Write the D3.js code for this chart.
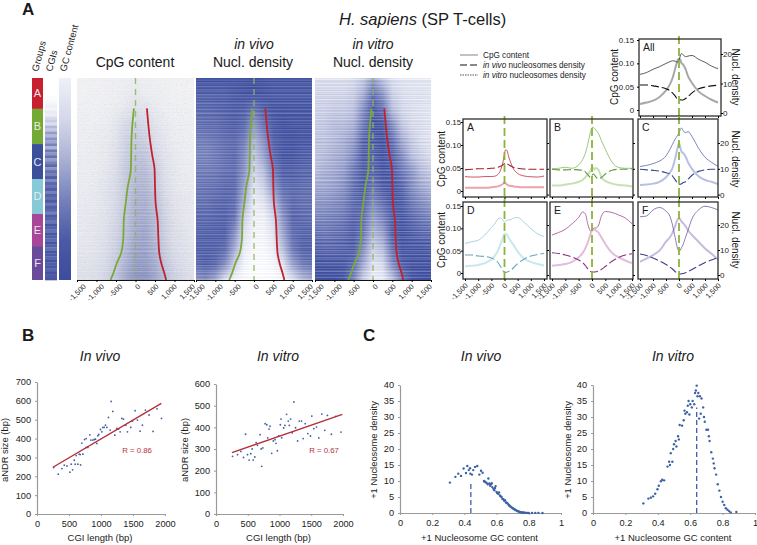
<!DOCTYPE html>
<html><head><meta charset="utf-8">
<script src="https://cdnjs.cloudflare.com/ajax/libs/d3/7.8.5/d3.min.js"></script>
<style>
html,body{margin:0;padding:0;background:#fff}
svg{display:block}
text{font-family:"Liberation Sans",Arial,sans-serif;fill:#1a1a1a}
</style></head><body>
<svg id="c" width="757" height="545"></svg>
<script>
// ---------- DATA ----------
const groupNames = ["A","B","C","D","E","F"];
const groupEnds = [0,0.153,0.327,0.50,0.673,0.832,1];
const groupColors = ["#c8202f","#73aa33","#3b4f9b","#85cad6","#a8479a","#6a4a9a"];
const heatX = [-1500,-1250,-1000,-750,-500,-250,0,250,500,750,1000,1250,1500];
const heatCpG = [
[.03,.03,.03,.04,.04,.05,.06,.05,.04,.03,.03,.03,.03],
[.03,.03,.04,.04,.05,.06,.08,.06,.05,.04,.03,.03,.03],
[.04,.04,.04,.05,.06,.10,.14,.12,.08,.05,.04,.04,.03],
[.05,.05,.05,.06,.10,.18,.22,.18,.12,.08,.05,.05,.04],
[.05,.05,.06,.08,.12,.22,.28,.24,.15,.10,.06,.05,.05],
[.06,.06,.07,.08,.14,.25,.32,.30,.20,.12,.08,.06,.05],
[.06,.06,.07,.10,.16,.28,.36,.36,.26,.14,.09,.07,.06],
[.07,.07,.08,.12,.18,.28,.40,.40,.30,.16,.10,.08,.07],
[.07,.08,.09,.12,.18,.30,.44,.44,.34,.20,.12,.10,.08],
[.08,.09,.10,.13,.20,.32,.46,.46,.38,.22,.14,.10,.08],
[.08,.09,.11,.14,.22,.34,.48,.50,.38,.24,.15,.12,.09],
[.10,.10,.12,.16,.24,.38,.52,.52,.42,.26,.16,.13,.10],
[.12,.12,.14,.18,.28,.42,.56,.56,.46,.30,.20,.15,.12],
[.14,.14,.16,.22,.32,.50,.62,.62,.52,.35,.24,.18,.14]];
const heatVivo = [
[.92,.92,.92,.92,.92,.92,.95,.92,.90,.90,.90,.90,.90],
[.85,.85,.85,.85,.88,.90,.92,.90,.88,.88,.88,.88,.88],
[.80,.80,.82,.84,.86,.85,.75,.85,.90,.90,.90,.90,.90],
[.75,.78,.78,.82,.85,.80,.55,.75,.88,.92,.90,.90,.90],
[.70,.70,.74,.78,.80,.70,.40,.60,.85,.90,.92,.90,.90],
[.66,.66,.70,.76,.80,.62,.30,.50,.80,.90,.90,.86,.85],
[.70,.70,.72,.76,.78,.58,.22,.35,.70,.85,.85,.82,.82],
[.72,.74,.76,.80,.80,.50,.15,.25,.55,.78,.80,.78,.76],
[.76,.76,.80,.82,.78,.40,.10,.15,.35,.68,.80,.76,.76],
[.80,.80,.82,.84,.75,.25,.08,.08,.22,.58,.82,.80,.78],
[.82,.84,.84,.85,.60,.15,.06,.06,.15,.48,.78,.82,.82],
[.85,.85,.85,.80,.45,.10,.04,.04,.10,.35,.72,.85,.85],
[.78,.85,.80,.60,.25,.06,.02,.02,.05,.15,.50,.70,.75],
[.55,.60,.45,.15,.05,.03,.02,.02,.02,.05,.15,.35,.45]];
const heatVitro = [
[.18,.18,.18,.18,.20,.28,.50,.30,.18,.15,.14,.14,.14],
[.22,.22,.22,.22,.26,.42,.75,.55,.25,.18,.16,.16,.14],
[.25,.25,.28,.28,.33,.60,.88,.75,.35,.22,.18,.16,.15],
[.28,.30,.36,.36,.42,.70,.90,.88,.60,.30,.20,.18,.15],
[.32,.32,.36,.42,.52,.80,.85,.92,.75,.45,.28,.18,.15],
[.32,.36,.42,.46,.60,.85,.82,.90,.82,.60,.35,.25,.18],
[.36,.42,.46,.52,.70,.85,.80,.88,.85,.70,.55,.36,.28],
[.46,.46,.50,.58,.75,.85,.72,.85,.88,.80,.60,.46,.38],
[.56,.56,.60,.65,.78,.82,.62,.75,.88,.85,.70,.60,.52],
[.65,.65,.68,.72,.82,.78,.50,.65,.85,.88,.80,.72,.65],
[.75,.72,.75,.78,.85,.72,.38,.50,.85,.90,.85,.80,.78],
[.82,.80,.80,.82,.85,.60,.25,.35,.75,.90,.88,.88,.85],
[.90,.88,.88,.88,.78,.45,.15,.20,.60,.85,.90,.90,.90],
[.92,.92,.92,.88,.65,.25,.10,.10,.30,.70,.88,.92,.92]];
const rowStreaks = [.2,-.4,.5,.1,-.7,.3,-.2,.6,-.5,0,.4,-.8,.2,.5,-.3,-.1,.7,-.6,.3,-.2,.1,.6,-.9,.4,-.3,.2,.5,-.5,.1,-.7,.6,.3,-.4,0,.8,-.2,-.6,.4,.1,-.3,.7,-.5,.2,-.1,.5,-.8,.3,.6,-.4,.1,
 -.2,.4,.6,-.7,0,.3,-.5,.2,.5,-.3,.6,-.1,-.8,.4,.2,-.4,.7,.1,-.6,.3,.5,-.2,-.9,.3,.6,0,-.4,.2,.5,-.7,.1,.4,-.3,.6,-.5,.2,-.1,.7,-.6,.3,0,.5,-.8,.2,.4,-.3,.6,-.2,.1,-.5,.3];
const edgeRow = [.15,.208,.29,.373,.455,.538,.62,.703,.785,.868,.917,.967,1];
const greenEdge = [-40,-70,-100,-110,-120,-198,-250,-300,-310,-370,-480,-570,-640];
const redEdge = [292,318,361,421,490,500,516,567,585,610,662,740,785];
const cgiLevels = [0,0,0,0,0,0,.02,.03,.05,.08,.06,.12,.1,.2,.28,.18,.4,.3,.55,.4,.62,.5,.7,.42,.75,.6,.8,.55,.7,.85,.6,.8,.72,.9,.65,.85,.78,.9,.7,.88,.8,.92,.75,.9,.85,.72,.92,.86,.78,.95,.88,.8,.95,.9,.84,.96,.9,.8,.95,.92,.86,.96,.9,.94,.86,.96,.92,.95];
const gcStops = [.08,.15,.22,.32,.44,.57,.7,.82,.92,.97,1];
const heatTicks = [-1500,-1000,-500,0,500,1000,1500];

const curveX = [-1500,-1250,-1000,-750,-500,-350,-250,-150,-50,0,50,100,150,250,350,500,750,1000,1250,1500];
const cpgAll=[.013,.016,.02,.028,.042,.055,.068,.088,.107,.11,.108,.10,.098,.088,.072,.058,.04,.03,.022,.016];
const vitroAll=[13.1,13.7,14.8,15.7,16.8,17.4,17.7,17.6,17.2,18,19.3,20.2,19.8,19.1,19.3,19.5,18.2,17.2,15.9,15];
const vivoAll=[9.5,9.5,9.2,8.8,8.2,7.6,6.8,5.8,4.7,4.7,4.5,4.4,4.4,4.9,5.6,6.8,8.2,8.8,9.2,9.4];
const cpgA=[.007,.007,.007,.007,.008,.009,.010,.012,.016,.019,.016,.014,.012,.011,.010,.009,.008,.008,.008,.008];
const vitroA=[7,6.8,6.8,7,7,7.2,7.8,9.5,13,16,17.4,17,15,12,9.8,8.2,7.2,6.9,6.8,7.2];
const vivoA=[9.6,9.8,10,10,10.2,10.3,10.6,11,11.6,12,12.2,12,11.6,11,10.5,10.2,9.9,9.8,9.8,9.8];
const cpgB=[.012,.012,.014,.016,.02,.024,.03,.036,.045,.052,.05,.047,.05,.045,.03,.022,.016,.013,.012,.01];
const vitroB=[10,10.2,10.6,10.2,11.5,13.6,16,20,24.5,26,26,25.6,25,23.5,21,17.6,12.6,10.5,10.2,10.2];
const vivoB=[9.8,9.6,9.6,9.7,9.6,9.4,8.8,7.6,6.6,7.5,8,7.5,6.8,6.2,6.6,8,9.4,9.8,9.8,10];
const cpgC=[.013,.014,.016,.02,.03,.04,.05,.07,.095,.105,.095,.085,.083,.075,.062,.048,.032,.024,.02,.015];
const vitroC=[10.9,11.3,12,13,15,17.5,19.5,21.5,23,24,25.2,25.8,25,24,24.4,22.5,18,14.5,12.5,11];
const vivoC=[9.8,9.6,9.4,9.1,8.5,8,7.2,5.8,4.4,4,4,4.2,4.6,5,6,7.5,9,9.6,9.8,9.8];
const cpgD=[.015,.016,.018,.022,.03,.04,.05,.065,.08,.088,.088,.085,.08,.07,.062,.048,.032,.025,.02,.017];
const vitroD=[12.6,13.3,13.9,16,19,20.8,22.4,22.8,21.8,21,21.6,22,22,22.2,22.8,23,21,18.6,16.5,15.4];
const vivoD=[8,8,7.6,7.4,6.8,6,5,3.4,1.6,1,1,1.2,1.4,2,3,4.6,6.4,7.6,8.2,8.6];
const cpgE=[.016,.018,.02,.025,.035,.045,.055,.07,.088,.095,.097,.097,.095,.09,.08,.065,.045,.035,.028,.022];
const vitroE=[16,17,18.3,20.5,23,25.2,24.5,20,17.6,18,18.6,18.8,18.8,20,23.5,25.4,25,24,22.8,20.5];
const vivoE=[8.9,8.6,8,7.2,6,5,3.8,2.4,1.4,1.2,1.2,1.2,1.3,1.6,2.2,3.4,5.5,7,8,8.5];
const cpgF=[.025,.032,.04,.05,.07,.08,.09,.105,.12,.123,.12,.115,.112,.105,.095,.085,.07,.055,.043,.03];
const vitroF=[23.3,23.6,26,27,25.5,23.5,20,15,10.5,9.5,10,11,12,15,18,22.5,26,27.5,27,26];
const vivoF=[8.4,7.8,6.8,5.6,4.2,3.2,2.4,1.4,.6,.4,.4,.5,.6,.9,1.4,2.2,3.6,5,6,7];
const curveTicks=[-1500,-1000,-500,0,500,1000,1500];

const vivoLen=[260,332,390,426,468,514,535,556,582,597,613,639,660,675,681,701,717,743,769,769,795,826,842,873,894,914,935,951,966,992,1013,1029,1049,1070,1091,1117,1143,1158,1184,1216,1247,1273,1299,1325,1351,1387,1413,1465,1491,1533,1569,1610,1647,1694,1751,1813,1875,1945];
const vivoSize=[246,211,241,259,255,222,264,234,285,264,310,264,317,315,260,376,317,395,353,400,353,420,392,392,395,397,374,415,422,448,436,459,459,471,459,512,445,597,544,418,454,450,436,507,503,471,436,459,493,548,498,439,471,551,525,438,558,507];
const vitroLen=[261,339,392,433,465,496,522,548,569,585,611,632,653,695,710,721,736,773,799,815,836,851,877,903,930,945,966,987,1013,1024,1034,1065,1086,1112,1138,1154,1175,1201,1227,1253,1285,1311,1347,1373,1405,1446,1488,1509,1540,1582,1619,1666,1713,1755,1817,1885,1969];
const vitroSize=[266,274,289,261,368,274,249,278,300,249,263,329,317,366,300,220,305,417,412,351,392,405,280,337,343,326,292,361,412,438,352,397,409,460,429,409,438,375,517,398,337,429,429,348,417,371,360,452,394,401,351,461,386,455,368,451,378];
const vivoFitX=[249,1943], vivoFitY=[248,587];
const vitroFitX=[251,1990], vitroFitY=[283,460];

const gcVivoX=[.31,.344,.362,.379,.395,.41,.418,.427,.435,.437,.447,.455,.466,.48,.493,.503,.513,.522,.525,.53,.538,.545,.549,.555,.56,.565,.57,.573,.58,.586,.59,.594,.6,.605,.61,.615,.621,.625,.631,.636,.642,.647,.652,.658,.663,.668,.673,.678,.683,.688,.694,.7,.704,.71,.714,.72,.725,.73,.735,.74,.745,.75,.756,.76,.766,.77,.776,.785,.79,.80,.82,.84,.86,.885];
const gcVivoY=[9.5,11.3,12.3,11.6,13.9,12.5,14.7,13.4,14,12.3,12,13.4,14.4,14.7,12,13.2,12.6,10,9.8,9.7,9.4,9,10.8,9.2,8.5,9,9.3,8.1,7.6,7.1,7.8,8.4,6.6,6.2,6,6.4,5.5,5.2,5,4.4,4.3,3.8,4,3.3,3.2,3,2.7,2.4,2.1,2,1.7,1.5,1.4,1.2,1,.9,.7,.6,.5,.4,.3,.25,.2,.15,.1,.1,.1,.05,.05,.03,.03,.05,.05,.02];
const gcVitroX=[.311,.342,.357,.371,.384,.398,.406,.419,.427,.439,.46,.47,.475,.48,.49,.495,.5,.51,.515,.525,.53,.535,.55,.56,.565,.57,.58,.585,.59,.595,.6,.61,.615,.625,.63,.635,.64,.645,.65,.655,.66,.665,.67,.68,.685,.69,.70,.71,.715,.72,.73,.74,.745,.75,.76,.77,.78,.79,.80,.81,.82,.83,.84,.85,.885];
const gcVitroY=[3,4.5,4.8,5.2,6,7.4,8.5,9.9,10.4,10.2,14.5,16,15,18.7,16,20,21.5,22.5,20.8,24,23,27.5,27.3,29,32,31,31.5,33.5,35,30.8,34,33,35,34,37.5,38.3,39.8,36.5,37.5,29.5,36.5,31,35.8,33,30,28.5,26,26,24,22.5,19,17,15.5,14,12,9,7,5,3.5,2.5,1.5,1,.6,.2,.3];

// ---------- HELPERS ----------
const svg=d3.select("#c"), defs=svg.append("defs");
const FONT='"Liberation Sans",Arial,sans-serif';
const label=(x,y,t,o={})=>{const s=svg.append("text").attr("x",x).attr("y",y).text(t)
  .attr("font-size",o.size||10).attr("text-anchor",o.anchor||"middle");
  if(o.italic)s.attr("font-style","italic");if(o.bold)s.attr("font-weight","bold");
  if(o.fill)s.style("fill",o.fill);if(o.rot!=null)s.attr("transform",`rotate(${o.rot} ${x} ${y})`);return s;};
const fmt=v=>d3.format(",")(v).replace("\u2212","-");
const heatColor=d3.scaleLinear().domain([0,1]).range(["#ffffff","#3d4d9e"]).clamp(true);
const HY=d3.scaleLinear().domain([0,1]).range([78,280]);

// grain overlay for the CpG map
const grain=defs.append("filter").attr("id","grain").attr("x",0).attr("y",0).attr("width",1).attr("height",1);
grain.append("feTurbulence").attr("type","fractalNoise").attr("baseFrequency",1.1).attr("numOctaves",1).attr("seed",4);
grain.append("feColorMatrix").attr("type","matrix").attr("values","0 0 0 0 .24  0 0 0 0 .30  0 0 0 0 .62  0 0 0 0 0  3 0 0 0 -1.65");

// ---------- HEAT PANELS ----------
function rotAxis(g,size,shift){g.selectAll(".tick text").attr("y",0).attr("dy",0)
   .attr("transform",d=>`translate(${shift(d)},7) rotate(-45)`).attr("text-anchor","end")
   .attr("font-size",size).attr("font-family",FONT).style("fill","#222");}
function heat(id,matrix,x0,x1,amp,off,add){
  const X=d3.scaleLinear().domain([-1500,1500]).range([x0,x1]);
  const rowIdx=d3.scaleLinear().domain([78,280]).range([0,matrix.length-1]);
  const g=svg.append("g");
  d3.range(78,280).forEach((py,i)=>{
    const r=rowIdx(py+.5),a=Math.floor(r),b=Math.min(a+1,matrix.length-1),t=r-a;
    const s=rowStreaks[(i+off)%rowStreaks.length];
    const gid=`${id}${i}`;
    const lg=defs.append("linearGradient").attr("id",gid);
    heatX.forEach((hx,k)=>{
      const v=matrix[a][k]*(1-t)+matrix[b][k]*t;
      lg.append("stop").attr("offset",(hx+1500)/3000).attr("stop-color",heatColor(v*(1+amp*s)+s*add*(1-v)));
    });
    g.append("rect").attr("x",x0).attr("y",py).attr("width",x1-x0).attr("height",1.05).attr("fill",`url(#${gid})`);
  });
  if(id=="a")svg.append("rect").attr("x",x0).attr("y",78).attr("width",x1-x0).attr("height",202).attr("filter","url(#grain)").attr("opacity",.3);
  svg.append("line").attr("x1",X(0)).attr("x2",X(0)).attr("y1",78).attr("y2",280)
    .attr("stroke","#8fb65a").attr("stroke-width",1.4).attr("stroke-dasharray","6,5").attr("opacity",.85);
  const line=d3.line().x(d=>X(d[0])).y(d=>HY(d[1])).curve(d3.curveMonotoneY);
  svg.append("path").attr("d",line(greenEdge.map((v,i)=>[v,edgeRow[i]]))).attr("fill","none").attr("stroke","#7aa93a").attr("stroke-width",1.8);
  svg.append("path").attr("d",line(redEdge.map((v,i)=>[v,edgeRow[i]]))).attr("fill","none").attr("stroke","#c1222f").attr("stroke-width",1.8);
  const ax=svg.append("g").attr("transform","translate(0,280)").call(d3.axisBottom(X).tickValues(heatTicks).tickFormat(fmt).tickSize(2).tickSizeOuter(0));
  ax.select(".domain").attr("stroke","#111").attr("stroke-width",1.2);
  rotAxis(ax,7.4,v=>5-v/1500*4);
}
heat("a",heatCpG,77,194,.2,0,.006);
heat("b",heatVivo,196,312,.16,37,.05);
heat("c",heatVitro,315,431,.22,71,.06);

// group bar
groupNames.forEach((n,i)=>{
  svg.append("rect").attr("x",32).attr("width",11).attr("y",HY(groupEnds[i])).attr("height",HY(groupEnds[i+1])-HY(groupEnds[i])).attr("fill",groupColors[i]);
  label(37.5,(HY(groupEnds[i])+HY(groupEnds[i+1]))/2+4,n,{size:11,fill:"#e9e9ee"});
});
// CGIs
const cgiY=d3.scaleBand().domain(d3.range(cgiLevels.length)).range([78,280]);
svg.append("g").selectAll("rect").data(cgiLevels).join("rect").attr("x",45).attr("width",12)
  .attr("y",(d,i)=>cgiY(i)).attr("height",cgiY.bandwidth()+.3).attr("fill",d=>heatColor(d));
// GC
const gcG=defs.append("linearGradient").attr("id","gc").attr("x1",0).attr("x2",0).attr("y1",0).attr("y2",1);
gcStops.forEach((v,i)=>gcG.append("stop").attr("offset",i/(gcStops.length-1)).attr("stop-color",heatColor(v)));
svg.append("rect").attr("x",59).attr("y",78).attr("width",12).attr("height",202).attr("fill","url(#gc)");

label(38,72,"Groups",{size:9.5,anchor:"start",rot:-75,fill:"#222"});
label(52,72,"CGIs",{size:9.5,anchor:"start",rot:-75,fill:"#222"});
label(66,72,"GC content",{size:9.5,anchor:"start",rot:-75,fill:"#222"});

label(135,67,"CpG content",{size:14});
label(254,49,"in vivo",{size:14,italic:true});
label(253,67,"Nucl. density",{size:14});
label(373,49,"in vitro",{size:14,italic:true});
label(373,67,"Nucl. density",{size:14});
label(22,15,"A",{size:17,bold:true,anchor:"start"});
const tt=svg.append("text").attr("x",339).attr("y",25).attr("font-size",16.5);
tt.append("tspan").attr("font-style","italic").text("H. sapiens");tt.append("tspan").text(" (SP T-cells)");

// legend
[["CpG content","#999",null,55],["in vivo|nucleosomes density","#111","7,3",65],["in vitro|nucleosomes density","#555","1.5,1",75]].forEach(l=>{
  svg.append("line").attr("x1",460).attr("x2",478).attr("y1",l[3]).attr("y2",l[3]).attr("stroke",l[1]).attr("stroke-width",1.2).attr("stroke-dasharray",l[2]);
  const t=svg.append("text").attr("x",483).attr("y",l[3]+3).attr("font-size",8.2);
  const p=l[0].split("|");
  if(p.length>1){t.append("tspan").attr("font-style","italic").text(p[0]);t.append("tspan").text(" "+p[1]);}else t.text(p[0]);
});

// ---------- PROFILE PANELS ----------
const panels=[
 {n:"All",f:[639,721,39,116],xr:[640,718],c:[110,40],d:[113,54],cpg:cpgAll,vit:vitroAll,viv:vivoAll,thin:"#333",dash:"#111",thick:"#a8a8a8",left:1,right:1,bottom:0,cy:77,lx:618,lp:3},
 {n:"A",f:[463,547,119,197],xr:[465,544],c:[191,122],d:[194.6,143],cpg:cpgA,vit:vitroA,viv:vivoA,thin:"#bf2a40",dash:"#a01c2e",thick:"#eba3af",left:1,right:0,cy:159,lx:445,lp:0},
 {n:"B",f:[550,633,119,197],xr:[552,632],c:[191,122],d:[194.6,143],cpg:cpgB,vit:vitroB,viv:vivoB,thin:"#82b860",dash:"#5a9a40",thick:"#c6e2b0",left:0,right:0,cy:159},
 {n:"C",f:[638,718,119,197],xr:[640,718],c:[191,122],d:[194.6,143],cpg:cpgC,vit:vitroC,viv:vivoC,thin:"#5a6aac",dash:"#38468f",thick:"#b8c0e2",left:0,right:1,cy:159},
 {n:"D",f:[463,547,202,279],xr:[465,544],c:[273,206],d:[275,225],cpg:cpgD,vit:vitroD,viv:vivoD,thin:"#93c8d5",dash:"#6aa5b8",thick:"#c8e7ee",left:1,right:0,bottom:1,cy:240,lx:445,lp:0},
 {n:"E",f:[550,633,202,279],xr:[552,632],c:[273,206],d:[275,225],cpg:cpgE,vit:vitroE,viv:vivoE,thin:"#9c4c92",dash:"#8a2e80",thick:"#e4bbde",left:0,right:0,bottom:1,cy:240},
 {n:"F",f:[638,718,202,279],xr:[640,718],c:[273,206],d:[275,225],cpg:cpgF,vit:vitroF,viv:vivoF,thin:"#6e5a9e",dash:"#4a3a8a",thick:"#c8badd",left:0,right:1,bottom:1,cy:240}
];
panels.forEach(p=>{
  const X=d3.scaleLinear().domain([-1500,1500]).range(p.xr);
  const C=d3.scaleLinear().domain([0,.15]).range(p.c);
  const D=d3.scaleLinear().domain([0,20]).range(p.d);
  const [x0,x1,y0,y1]=p.f;
  const lc=d3.line().x((d,i)=>X(curveX[i])).y(d=>C(d)).curve(d3.curveMonotoneX);
  const ld=d3.line().x((d,i)=>X(curveX[i])).y(d=>D(d)).curve(d3.curveMonotoneX);
  svg.append("path").attr("d",lc(p.cpg)).attr("fill","none").attr("stroke",p.thick).attr("stroke-width",2);
  svg.append("path").attr("d",ld(p.vit)).attr("fill","none").attr("stroke",p.thin).attr("stroke-width",.8);
  svg.append("path").attr("d",ld(p.viv)).attr("fill","none").attr("stroke",p.dash).attr("stroke-width",1.1).attr("stroke-dasharray","8,3");
  svg.append("line").attr("x1",X(0)).attr("x2",X(0)).attr("y1",p.n=="All"?36:y0-3).attr("y2",y1)
    .attr("stroke","#8db33a").attr("stroke-width",1.8).attr("stroke-dasharray","8,4");
  svg.append("rect").attr("x",x0).attr("y",y0).attr("width",x1-x0).attr("height",y1-y0).attr("fill","none").attr("stroke","#2e2e2e").attr("stroke-width",1.3);
  label(x0+4,y0+12,p.n,{size:10.5,anchor:"start"});
  if(p.left){
    const la=svg.append("g").attr("transform",`translate(${x0},0)`).call(d3.axisLeft(C).tickValues([0,.05,.1,.15]).tickFormat(v=>v==0?"0":d3.format(".2f")(v)).tickSize(2).tickSizeOuter(0).tickPadding(p.lp));
    la.select(".domain").remove();la.selectAll("text").attr("font-size",7.8).attr("font-family",FONT).style("fill","#222");
    label(p.lx,p.cy,"CpG content",{size:10,rot:-90});
  }
  const ra=svg.append("g").attr("transform",`translate(${x1},0)`).call(d3.axisRight(D).tickValues([0,10,20]).tickSize(2).tickSizeOuter(0).tickPadding(0));
  ra.select(".domain").remove();ra.selectAll("text").attr("font-size",8).attr("font-family",FONT).style("fill","#222");
  if(!p.right)ra.selectAll("text").remove();
  else label(732,p.cy,"Nucl. density",{size:10,rot:90});
  const ba=svg.append("g").attr("transform",`translate(0,${y1})`).call(d3.axisBottom(X).tickValues(curveTicks).tickFormat(fmt).tickSize(2).tickSizeOuter(0));
  ba.select(".domain").remove();
  if(p.bottom)rotAxis(ba,7.4,()=>3);else ba.selectAll("text").remove();
});

// ---------- SCATTERS ----------
function axesXY(X,Y,xt,yt,xl,yl,xLabelY,ylx){
  const by=Y.range()[0], lx=X.range()[0];
  const ax=svg.append("g").attr("transform",`translate(0,${by})`).call(d3.axisBottom(X).tickValues(xt).tickSize(2).tickSizeOuter(0).tickPadding(4).tickFormat(d=>d));
  const ay=svg.append("g").attr("transform",`translate(${lx},0)`).call(d3.axisLeft(Y).tickValues(yt).tickSize(2).tickSizeOuter(0).tickPadding(4));
  [ax,ay].forEach(g=>{g.select(".domain").attr("stroke","#9a9a9a").attr("stroke-width",1.2);g.selectAll("line").attr("stroke","#9a9a9a");
    g.selectAll("text").attr("font-size",9.2).attr("font-family",FONT).style("fill","#222");});
  label((X.range()[0]+X.range()[1])/2-1,xLabelY,xl,{size:9.5});
  label(ylx,450,yl,{size:9.4,rot:-90});
}
function scatter(xs,ys,X,Y,r){svg.append("g").selectAll("circle").data(xs).join("circle")
  .attr("cx",d=>X(d)).attr("cy",(d,i)=>Y(ys[i])).attr("r",r).attr("fill","#3f62a5");}

let X=d3.scaleLinear().domain([0,2000]).range([37,165]),Y=d3.scaleLinear().domain([0,700]).range([514,382]);
axesXY(X,Y,[0,500,1000,1500,2000],[0,100,200,300,400,500,600,700],"CGI length (bp)","aNDR size (bp)",541,8);
scatter(vivoLen,vivoSize,X,Y,.9);
svg.append("line").attr("x1",X(vivoFitX[0])).attr("x2",X(vivoFitX[1])).attr("y1",Y(vivoFitY[0])).attr("y2",Y(vivoFitY[1])).attr("stroke","#b32e38").attr("stroke-width",1.4);
label(137,453,"R = 0.86",{size:7.8,fill:"#b5313a"});
label(100,361,"In vivo",{size:14,italic:true});
label(22,341,"B",{size:17,bold:true,anchor:"start"});

X=d3.scaleLinear().domain([0,2000]).range([216,343]);Y=d3.scaleLinear().domain([0,600]).range([514,384]);
axesXY(X,Y,[0,500,1000,1500,2000],[0,100,200,300,400,500,600],"CGI length (bp)","aNDR size (bp)",541,188);
scatter(vitroLen,vitroSize,X,Y,.9);
svg.append("line").attr("x1",X(vitroFitX[0])).attr("x2",X(vitroFitX[1])).attr("y1",Y(vitroFitY[0])).attr("y2",Y(vitroFitY[1])).attr("stroke","#b32e38").attr("stroke-width",1.4);
label(324,453,"R = 0.67",{size:7.8,fill:"#b5313a"});
label(278,361,"In vitro",{size:14,italic:true});
label(363,341,"C",{size:17,bold:true,anchor:"start"});

const yt40=[0,5,10,15,20,25,30,35,40],xt1=[0,.2,.4,.6,.8,1];
X=d3.scaleLinear().domain([0,1]).range([400,561]);Y=d3.scaleLinear().domain([0,40]).range([513,385]);
axesXY(X,Y,xt1,yt40,"+1 Nucleosome GC content","+1 Nucleosome density",541,377);
svg.append("line").attr("x1",X(.44)).attr("x2",X(.44)).attr("y1",Y(0)).attr("y2",Y(10)).attr("stroke","#3f62a5").attr("stroke-width",1.3).attr("stroke-dasharray","5,3");
scatter(gcVivoX,gcVivoY,X,Y,1.2);
label(481,361,"In vivo",{size:14,italic:true});

X=d3.scaleLinear().domain([0,1]).range([593,755]);
axesXY(X,Y,xt1,yt40,"+1 Nucleosome GC content","+1 Nucleosome density",541,571);
svg.append("line").attr("x1",X(.64)).attr("x2",X(.64)).attr("y1",Y(0)).attr("y2",Y(33)).attr("stroke","#3f62a5").attr("stroke-width",1.3).attr("stroke-dasharray","5,3");
scatter(gcVitroX,gcVitroY,X,Y,1.2);
label(673,361,"In vitro",{size:14,italic:true});
</script>
</body></html>
